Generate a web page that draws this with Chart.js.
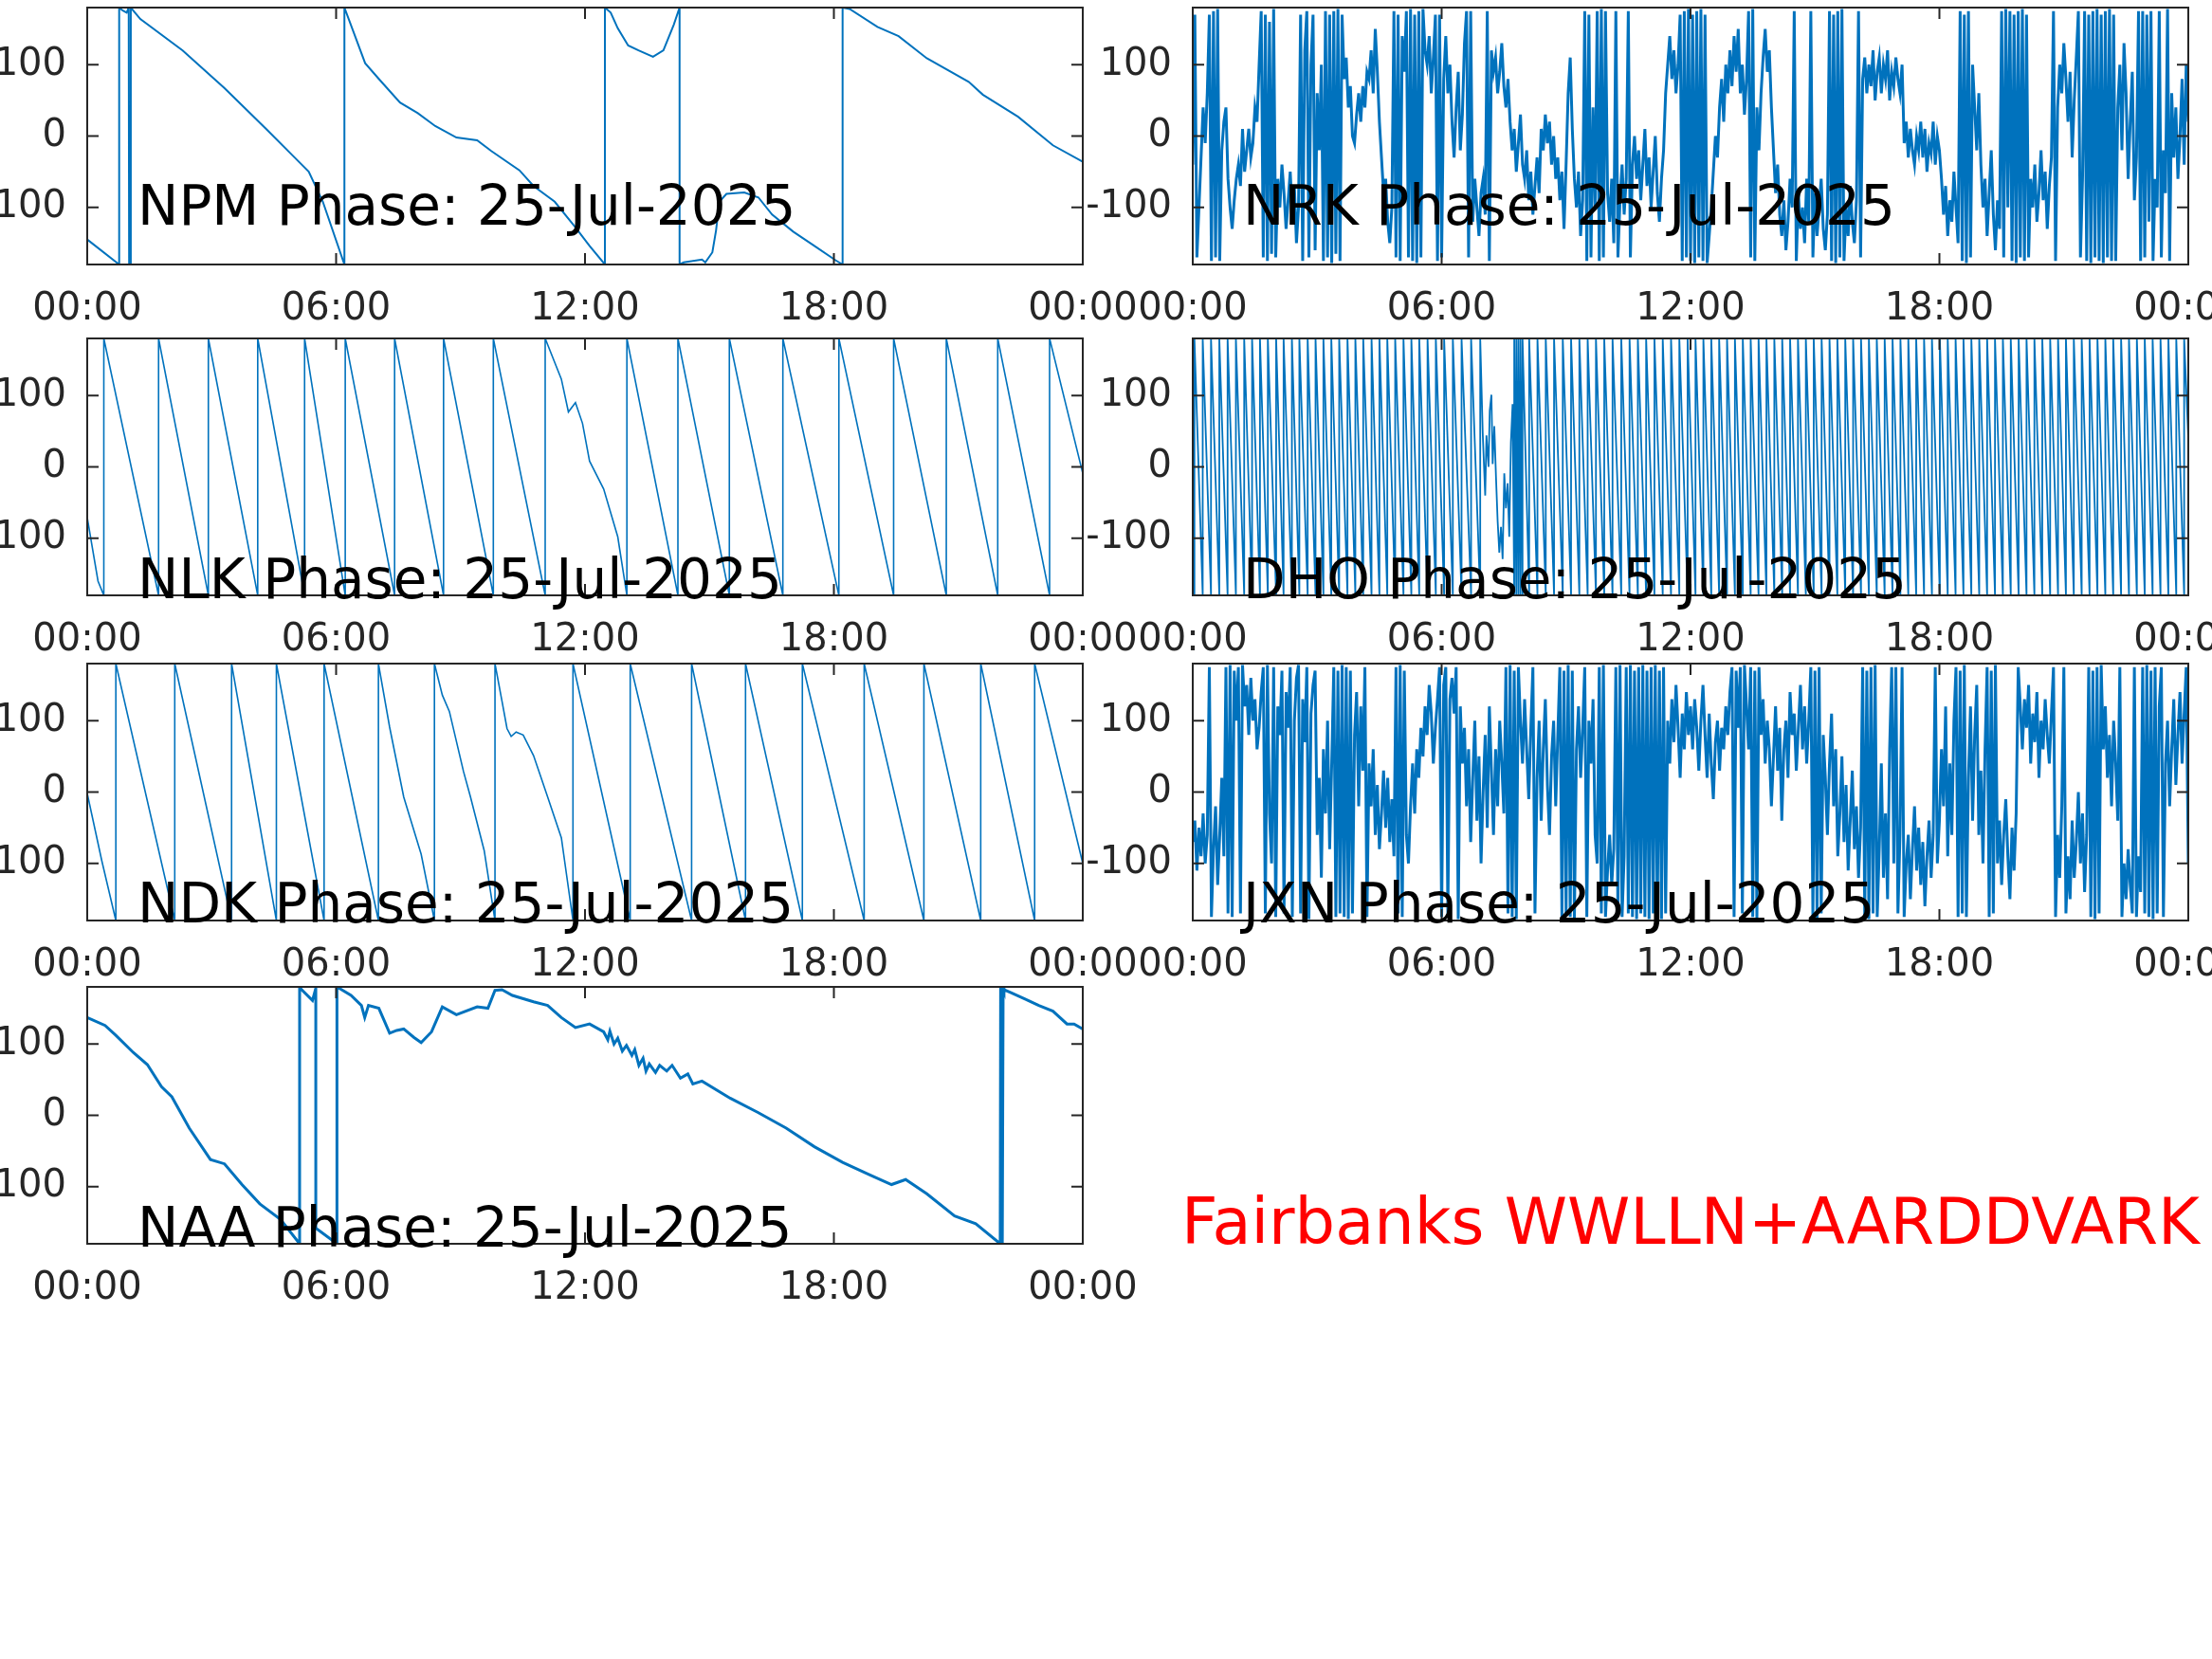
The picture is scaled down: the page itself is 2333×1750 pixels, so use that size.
<!DOCTYPE html>
<html lang="en">
<head>
  <meta charset="UTF-8" />
  <title>Fairbanks VLF Phase 25-Jul-2025</title>
  <script src="https://cdn.jsdelivr.net/npm/chart.js"></script>
  <style>
    body {
      margin: 0;
      width: 2333px;
      height: 1750px;
      overflow: hidden;
      background: #fff;
      position: relative;
      font-family: "DejaVu Sans", sans-serif;
    }
    canvas { position: absolute; }
    #site {
      position: absolute;
      left: 1246px;
      top: 1256px;
      font-size: 67px;
      line-height: 67px;
      color: #ff0000;
      white-space: nowrap;
    }
  </style>
</head>
<body>
  <div id="site">Fairbanks WWLLN+AARDDVARK</div>

  <script>
    // axis ticks (hours of day / degrees)
    const xTicks = [0, 6, 12, 18, 24];
    const xTickLabels = ['00:00', '06:00', '12:00', '18:00', '00:00'];
    const yTicks = [-100, 0, 100];

    // NPM phase, hours / degrees
    const npmT = [0, 0.77, 0.77, 0.85, 0.95, 1.0, 1.01, 1.04, 1.05, 1.28, 2.30, 3.31, 4.33, 5.0, 5.34, 5.68, 6.2, 6.2,
      6.70, 7.03, 7.54, 7.97, 8.39, 8.90, 9.40, 9.74, 10.42, 10.76, 11.27, 11.77, 12.11, 12.48, 12.48, 12.62, 12.79,
      13.04, 13.29, 13.64, 13.89, 14.14, 14.28, 14.28, 14.38, 14.82, 14.9, 15.07, 15.16, 15.24, 15.41, 15.84, 16.18,
      16.51, 17.02, 17.53, 18.04, 18.21, 18.21, 18.38, 19.05, 19.56, 20.24, 21.25, 21.59, 22.44, 23.28, 24];
    const npmV = [-145, -180, 180, 176, 173, 180, -180, -180, 180, 164, 120, 67, 9, -30, -50, -92, -180, 180,
      102, 80, 47, 32, 14, -2, -6, -21, -48, -70, -92, -128, -154, -180, 180, 173, 151,
      127, 120, 111, 120, 156, 180, -180, -177, -173, -177, -163, -132, -92, -81, -79, -86,
      -110, -134, -154, -174, -180, 180, 178, 153, 140, 109, 76, 58, 27, -13, -36];

    // NLK phase
    const nlkT = [0, 0.26, 0.40, 0.40, 1.72, 1.72, 2.92, 2.92, 4.11, 4.11, 5.24, 5.24, 6.22, 6.22, 7.41, 7.41, 8.59, 8.59,
      9.79, 9.79, 11.04, 11.04, 11.43, 11.60, 11.77, 11.94, 12.11, 12.45, 12.79, 13.01, 13.01, 14.24, 14.24, 15.48, 15.48,
      16.77, 16.77, 18.12, 18.12, 19.44, 19.44, 20.71, 20.71, 21.95, 21.95, 23.20, 23.20, 24];
    const nlkV = [-71, -160, -180, 180, -180, 180, -180, 180, -180, 180, -180, 180, -180, 180, -180, 180, -180, 180,
      -180, 180, -180, 180, 123, 77, 90, 61, 8, -31, -98, -180, 180, -180, 180, -180, 180,
      -180, 180, -180, 180, -180, 180, -180, 180, -180, 180, -180, 180, -9];

    // NDK phase
    const ndkT = [0, 0.35, 0.69, 0.69, 2.11, 2.11, 3.48, 3.48, 4.56, 4.56, 5.71, 5.71, 7.02, 7.02, 7.29, 7.63, 8.05, 8.37, 8.37,
      8.56, 8.73, 9.07, 9.24, 9.57, 9.83, 9.83, 10.0, 10.12, 10.22, 10.34, 10.51, 10.76, 11.10, 11.43, 11.71, 11.71,
      13.09, 13.09, 14.57, 14.57, 15.87, 15.87, 17.24, 17.24, 18.73, 18.73, 20.17, 20.17, 21.54, 21.54, 22.84, 22.84, 24];
    const ndkV = [-2, -96, -180, 180, -180, 180, -180, 180, -180, 180, -180, 180, -180, 180, 91, -7, -87, -180, 180,
      136, 113, 29, -7, -82, -180, 180, 127, 89, 78, 84, 80, 51, -7, -64, -180, 180,
      -180, 180, -180, 180, -180, 180, -180, 180, -180, 180, -180, 180, -180, 180, -180, 180, -100];

    // NAA phase
    const naaT = [0, 0.43, 0.69, 1.11, 1.45, 1.79, 2.04, 2.46, 2.97, 3.31, 3.73, 4.16, 4.66, 5.12, 5.12, 5.17, 5.43, 5.51,
      5.51, 6.02, 6.02, 6.36, 6.61, 6.69, 6.78, 7.03, 7.29, 7.46, 7.63, 7.88, 8.05, 8.30, 8.56, 8.90, 9.40, 9.66, 9.83,
      10.0, 10.25, 10.76, 11.10, 11.43, 11.77, 12.11, 12.45, 12.55, 12.6, 12.7, 12.79, 12.9, 13.0, 13.13, 13.2, 13.3,
      13.4, 13.47, 13.55, 13.7, 13.8, 13.97, 14.1, 14.3, 14.48, 14.6, 14.82, 15.50, 16.17, 16.85, 17.53, 18.21, 18.88,
      19.39, 19.73, 20.24, 20.91, 21.42, 22.01, 22.02, 22.03, 22.05, 22.06, 22.08, 22.10, 22.27, 22.61, 22.94, 23.28,
      23.62, 23.79, 24];
    const naaV = [137, 126, 112, 88, 71, 40, 26, -18, -62, -68, -97, -124, -146, -180, 180, 176, 161, 178,
      -158, -180, 180, 168, 154, 137, 154, 150, 115, 119, 121, 109, 102, 117, 152, 141, 152, 150, 175,
      176, 168, 159, 154, 137, 123, 128, 117, 106, 118, 100, 108, 90, 98, 84, 92, 70,
      80, 62, 72, 60, 70, 62, 70, 52, 58, 44, 48, 24, 4, -18, -44, -66, -84,
      -97, -90, -110, -141, -152, -180, 180, -180, 180, -180, 180, 176, 172, 163, 154, 146,
      128, 128, 121];

    // DHO phase: wrap times before and after the disturbed stretch, plus the stretch itself
    const dhoStartV = 60;
    const dhoWrapsA = [0.04, 0.24, 0.44, 0.64, 0.84, 1.04, 1.24, 1.43, 1.62, 1.81, 2.01, 2.19, 2.39, 2.57, 2.77, 2.96,
      3.15, 3.34, 3.53, 3.73, 3.92, 4.11, 4.31, 4.50, 4.69, 4.88, 5.08, 5.27, 5.46, 5.66, 5.86, 6.06, 6.27, 6.48,
      6.71, 6.93];
    const dhoMidT = [6.99, 7.05, 7.08, 7.13, 7.16, 7.2, 7.23, 7.27, 7.31, 7.35, 7.39, 7.43, 7.47, 7.51, 7.55, 7.59,
      7.63, 7.67, 7.71];
    const dhoMidV = [48, -40, 44, 0, 79, 101, 4, 57, -14, -76, -120, -84, -129, -9, -58, -23, -98, 35, 88];
    const dhoWrapsB = [7.75, 7.80, 7.85, 7.90, 7.95, 8.11, 8.31, 8.51, 8.71, 8.92, 9.12, 9.32, 9.52, 9.72, 9.92,
      10.12, 10.33, 10.53, 10.73, 10.93, 11.13, 11.33, 11.53, 11.73, 11.93, 12.12, 12.31, 12.50, 12.69, 12.88,
      13.07, 13.26, 13.45, 13.64, 13.83, 14.02, 14.21, 14.40, 14.59, 14.78, 14.97, 15.16, 15.35, 15.54, 15.73,
      15.92, 16.11, 16.30, 16.49, 16.68, 16.87, 17.06, 17.25, 17.44, 17.63, 17.82, 18.01, 18.20, 18.39, 18.58,
      18.77, 18.96, 19.15, 19.34, 19.53, 19.72, 19.91, 20.10, 20.29, 20.48, 20.67, 20.86, 21.05, 21.24, 21.43,
      21.62, 21.81, 22.00, 22.19, 22.38, 22.57, 22.76, 22.95, 23.14, 23.33, 23.52, 23.71, 23.90];
    const dhoEndV = 40;

    // NRK and JXN: one sample every 3 minutes (0.05 h), one row per hour
    const sampleStep = 0.05;
    const nrkPhase = [
      -40, 170, -170, -100, -30, 40, -10, 60, 170, -175, 175, -170, 178, -175, -20, 20, 40, -60, -100, -130,
      -90, -60, -40, -70, 10, -50, -20, 10, -30, -10, 40, 20, 100, 175, -170, 170, -175, 160, -165, 178,
      -170, -60, -100, -40, -80, -130, -90, -50, -110, -70, -150, -100, 170, -175, 120, 175, -170, 100, 170, -160,
      60, -20, 100, -175, 175, -170, 170, -178, 175, -165, 178, -175, 170, 80, 110, 40, 70, 0, -10, 30,
      60, 20, 70, 40, 90, 80, 120, 60, 150, 90, 20, -30, -80, -60, -120, -150, -100, 175, -170, 170,
      -175, 140, 90, 175, -170, 178, -175, 170, -178, 175, -170, 178, 120, 100, 140, 60, 110, 170, -175, 170,
      -170, 80, 140, 60, 100, 20, -30, 40, 90, -20, 30, 130, 175, -170, 175, -120, -60, -100, -140, -80,
      -60, -110, 175, -175, 120, 90, 110, 60, 90, 130, 70, 40, 80, 20, -20, 10, -50, -10, 30, -40,
      -60, -20, -90, -50, -110, -70, -30, -80, 10, -20, 30, -10, 20, -40, 0, -60, -30, -90, -50, -130,
      -40, 60, 110, 10, -60, -100, -50, -140, -90, 175, -175, 170, -170, 40, -100, 175, -175, 178, -170, 175,
      -80, -120, -60, -150, 175, -170, -90, -40, -110, -60, 175, -170, -40, 0, -60, -20, -90, -40, 10, -70,
      -30, -100, -50, 0, -80, -120, -60, -20, 60, 100, 140, 80, 120, 60, 100, 170, -175, 175, -170, 178,
      -175, 170, -178, 175, -170, 178, -175, 170, -178, -140, -100, -50, 0, -30, 40, 80, 20, 100, 60, 120,
      70, 140, 90, 150, 60, 100, 30, 80, 175, -170, 178, -175, 40, -20, 60, 110, 150, 90, 120, 40,
      -20, -80, -40, -110, -140, -90, -160, -120, -60, -100, 175, -175, -80, -130, -100, -150, -60, -120, 175, -170,
      -80, -140, -100, -60, -130, -160, -110, 175, -175, 170, -178, 175, -170, 178, -175, -100, -140, -70, -120, -150,
      -90, 175, -170, 80, 110, 60, 100, 70, 120, 50, 90, 110, 60, 100, 80, 120, 50, 90, 70, 110,
      80, 60, 100, -10, 20, -30, 10, -20, -40, 0, -20, 20, -30, 10, -50, -10, -25, 20, -40, 0,
      -20, -60, -110, -70, -140, -90, -120, -50, -100, -150, 175, -175, 170, -178, 175, -170, 100, 40, -20, 60,
      -40, -100, -60, -140, -80, -20, -110, -160, -90, -130, 175, -170, 178, -100, 175, -175, 170, -178, 175, -170,
      178, -175, 170, -170, -60, -100, -40, -120, -80, -20, -90, -50, -130, -70, -30, 175, -175, 40, 100, 60,
      130, 80, 20, 90, -30, 50, 110, 175, -170, -60, 175, -175, 170, -178, 175, -170, 178, -175, 170, -178,
      175, -170, 178, -175, 170, -175, 40, 100, -20, 130, 60, -60, 20, 90, -90, -30, 175, -175, 175, -170,
      170, -120, 175, -175, -60, -100, 175, -170, -20, -80, 178, -175, 60, -30, 40, -60, 0, 80, -40, 100,
      20];
    const jxnPhase = [
      -70, -40, -110, -50, -90, -30, -100, -60, 175, -175, -80, -20, -130, -60, 20, -90, 175, -170, 178, -175,
      170, 100, 175, -170, 178, 120, 150, 80, 160, 100, 130, 60, 90, 140, 175, -170, 178, -30, -100, 175,
      -175, 120, 80, 170, -170, 140, 90, 175, -175, 100, 160, 178, -170, 130, 70, 175, -178, 110, 150, 170,
      -60, 20, -120, 60, -30, 100, -80, 40, 175, -175, 170, -170, 178, -175, 175, -178, 170, -170, 80, 140,
      -20, 120, 30, 175, -175, 40, -20, 60, -60, 10, -80, -30, 30, -50, 20, -70, -10, -90, 175, -170,
      178, -175, 170, -60, -100, -20, 40, -30, 60, 20, 90, 50, 120, 80, 150, 110, 40, 90, 130, 175,
      -175, 150, 175, -170, 130, 160, 110, 175, -178, 120, 40, 90, -20, 60, -70, 20, 100, -40, 50, -100,
      0, 80, -50, 120, 30, -60, 60, -20, 100, 40, -30, 175, -170, 178, -175, 170, -178, 175, 100, 40,
      130, 60, -10, 90, 175, -170, 20, 100, -40, 60, 130, 10, -60, 50, 100, -20, 80, 175, -175, 170,
      -170, 178, -175, 170, -178, 60, 120, 20, 90, 175, -175, 100, 40, 130, -60, -100, 175, -170, 178, -175,
      -110, -60, -130, -80, 175, -170, 178, -175, -90, 175, -170, 178, -175, 170, -178, 175, -170, 178, -175, 170,
      -178, 175, -170, 178, -175, 170, -178, 175, -170, 100, 40, 130, 70, 150, 90, 20, 110, 60, 140, 80,
      120, 60, 130, 90, 30, 100, 150, 80, 20, 110, 40, -10, 70, 100, 30, 90, 60, 120, 80, 140,
      175, -175, 170, 90, 175, -170, 178, 120, 60, 175, -175, 170, -178, 175, 80, 130, 40, 100, 60, -20,
      50, 120, 30, 90, -40, 60, 100, 20, 140, 80, 110, 30, 90, 150, 60, 120, 40, 100, 175, -175,
      170, -178, 175, -170, 80, 20, -60, 40, 110, -20, 60, -90, -30, 50, -70, 10, -110, -40, 30, -80,
      -20, -120, -50, 175, -175, 170, -178, 175, -170, 178, -175, -80, 40, -120, -30, -150, 60, 175, -100, 175,
      -170, -60, 175, -175, -100, -60, -150, -80, -20, -110, -50, -130, -70, -160, -90, -40, -120, -60, 175, -100,
      -40, 60, -20, 120, -90, 40, -60, 100, 175, -175, 170, -170, 178, -175, 20, 120, -40, 80, 150, -60,
      30, -100, 60, 175, -175, 170, -170, 178, -100, -40, -130, -60, -10, -90, -150, -50, -110, -30, 175, 120,
      60, 130, 90, 150, 40, 110, 70, 140, 20, 100, 60, 130, 80, 40, 110, 175, -175, -60, -120, -20,
      175, -170, -90, -150, -40, -120, -70, 0, -100, -30, -140, -60, 175, -175, 170, -178, 175, -170, 178, 60,
      120, 20, 80, -20, 100, 40, -40, 175, -175, -100, -150, -80, -130, -170, 175, -175, -90, -140, 175, -170,
      178, -175, 170, -178, 175, -170, 120, 175, -175, 40, 100, -20, 60, 130, 10, 80, 140, 40, 110, 175,
      -100];

    // ---- building the point lists ----
    const pairs = (t, v) => t.map((x, i) => ({ x, y: v[i] }));
    const sampled = vals => vals.map((y, i) => ({ x: i * sampleStep, y }));

    const dhoPts = [{ x: 0, y: dhoStartV }];
    dhoWrapsA.forEach(w => dhoPts.push({ x: w, y: -180 }, { x: w, y: 180 }));
    dhoMidT.forEach((t, i) => dhoPts.push({ x: t, y: dhoMidV[i] }));
    dhoWrapsB.forEach(w => dhoPts.push({ x: w, y: -180 }, { x: w, y: 180 }));
    dhoPts.push({ x: 24, y: dhoEndV });

    // ---- layout of the 7 axes ----
    const colLeft = [92, 1258];
    const yAxisW = [92, 140];
    const rowTop = [8, 357, 700, 1041];
    const plotW = 1050, plotH = 271;
    const xAxisH = 70, padTop = 10, padRight = 62;

    const panels = [
      { title: 'NPM Phase: 25-Jul-2025', col: 0, row: 0, pts: pairs(npmT, npmV), lw: 2, textY: 229 },
      { title: 'NRK Phase: 25-Jul-2025', col: 1, row: 0, pts: sampled(nrkPhase), lw: 3, textY: 229 },
      { title: 'NLK Phase: 25-Jul-2025', col: 0, row: 1, pts: pairs(nlkT, nlkV), lw: 1.6, textY: 274 },
      { title: 'DHO Phase: 25-Jul-2025', col: 1, row: 1, pts: dhoPts, lw: 1.8, textY: 274 },
      { title: 'NDK Phase: 25-Jul-2025', col: 0, row: 2, pts: pairs(ndkT, ndkV), lw: 1.6, textY: 273 },
      { title: 'JXN Phase: 25-Jul-2025', col: 1, row: 2, pts: sampled(jxnPhase), lw: 3, textY: 273 },
      { title: 'NAA Phase: 25-Jul-2025', col: 0, row: 3, pts: pairs(naaT, naaV), lw: 3, textY: 274 }
    ];

    const axisColor = '#262626';
    const tickFont = { family: 'DejaVu Sans', size: 40 };

    // MATLAB style box with inward ticks, plus the in-axes title
    const boxPlugin = {
      id: 'box',
      afterDraw(chart, args, opts) {
        const { ctx, chartArea: a, scales } = chart;
        ctx.save();
        ctx.strokeStyle = axisColor;
        ctx.lineWidth = 2;
        ctx.strokeRect(a.left, a.top, a.right - a.left, a.bottom - a.top);
        ctx.beginPath();
        xTicks.forEach(v => {
          const px = scales.x.getPixelForValue(v);
          ctx.moveTo(px, a.bottom); ctx.lineTo(px, a.bottom - 12);
          ctx.moveTo(px, a.top); ctx.lineTo(px, a.top + 12);
        });
        yTicks.forEach(v => {
          const py = scales.y.getPixelForValue(v);
          ctx.moveTo(a.left, py); ctx.lineTo(a.left + 12, py);
          ctx.moveTo(a.right, py); ctx.lineTo(a.right - 12, py);
        });
        ctx.stroke();
        ctx.fillStyle = '#000';
        ctx.font = '58px "DejaVu Sans"';
        ctx.textBaseline = 'alphabetic';
        ctx.fillText(opts.title, a.left + 53, a.top + opts.textY);
        ctx.restore();
      }
    };

    panels.forEach(p => {
      const yw = yAxisW[p.col];
      const c = document.createElement('canvas');
      const w = yw + plotW + padRight;
      const h = padTop + plotH + xAxisH;
      c.width = w; c.height = h;
      c.style.width = w + 'px'; c.style.height = h + 'px';
      c.style.left = (colLeft[p.col] - yw) + 'px';
      c.style.top = (rowTop[p.row] - padTop) + 'px';
      document.body.appendChild(c);

      new Chart(c, {
        type: 'line',
        data: {
          datasets: [{
            data: p.pts,
            borderColor: '#0072BD',
            borderWidth: p.lw,
            pointRadius: 0,
            tension: 0,
            fill: false
          }]
        },
        options: {
          responsive: false,
          animation: false,
          events: [],
          layout: { padding: { top: padTop, right: padRight, left: 0, bottom: 0 } },
          plugins: {
            legend: { display: false },
            tooltip: { enabled: false },
            box: { title: p.title, textY: p.textY }
          },
          scales: {
            x: {
              type: 'linear', min: 0, max: 24,
              afterBuildTicks: s => { s.ticks = xTicks.map(v => ({ value: v })); },
              afterFit: s => { s.height = xAxisH; s.paddingLeft = 0; s.paddingRight = 0; },
              grid: { display: false, drawTicks: false },
              border: { display: false },
              ticks: {
                autoSkip: false, maxRotation: 0, padding: 24,
                color: axisColor, font: tickFont,
                callback: (v, i) => xTickLabels[i]
              }
            },
            y: {
              min: -180, max: 180,
              afterBuildTicks: s => { s.ticks = yTicks.map(v => ({ value: v })); },
              afterFit: s => { s.width = yw; s.paddingTop = 0; s.paddingBottom = 0; },
              grid: { display: false, drawTicks: false },
              border: { display: false },
              ticks: { padding: 22, color: axisColor, font: tickFont }
            }
          }
        },
        plugins: [boxPlugin]
      });
    });
  </script>
</body>
</html>
